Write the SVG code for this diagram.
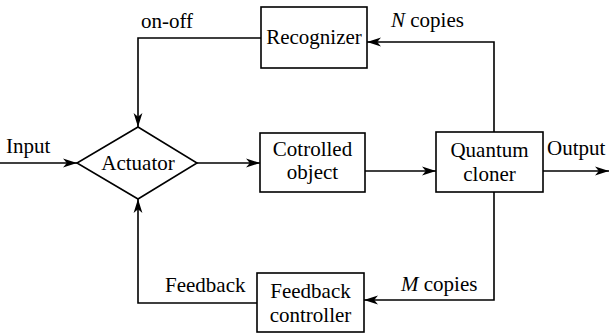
<svg xmlns="http://www.w3.org/2000/svg" width="610" height="336" viewBox="0 0 610 336">
  <style>
    .box { fill: #fff; stroke: #000; stroke-width: 1.6; }
    .wire { fill: none; stroke: #000; stroke-width: 1.6; marker-end: url(#arrow); }
    text { font-family: 'Liberation Serif', 'DejaVu Serif', serif; font-size: 21px; fill: #000; }
    .c { text-anchor: middle; }
  </style>
  <defs>
    <marker id="arrow" markerUnits="userSpaceOnUse" markerWidth="15" markerHeight="10" refX="14" refY="5" orient="auto">
      <path d="M0,0.6 L14,5 L0,9.4 L3.8,5 Z" fill="#000"/>
    </marker>
  </defs>
  <rect width="610" height="336" fill="#fff"/>

  <g id="connectors">
    <path class="wire" d="M0,163 H77"/>
    <path class="wire" d="M197,163 H260"/>
    <path class="wire" d="M365,171 H436"/>
    <path class="wire" d="M543,171 H609"/>
    <path class="wire" d="M494,132 V42 H367"/>
    <path class="wire" d="M261,38 H138 V127"/>
    <path class="wire" d="M494,192 V300 H364"/>
    <path class="wire" d="M257,303 H138 V199"/>
  </g>

  <g id="labels">
    <text x="6" y="153">Input</text>
    <text x="547" y="155">Output</text>
    <text x="141" y="28">on-off</text>
    <text x="391" y="27"><tspan font-style="italic">N</tspan> copies</text>
    <text x="401" y="291"><tspan font-style="italic">M</tspan> copies</text>
    <text x="165" y="292">Feedback</text>
  </g>

  <g id="recognizer">
    <rect class="box" x="261" y="7" width="106" height="61"/>
    <text class="c" x="314" y="44">Recognizer</text>
  </g>

  <g id="actuator">
    <polygon class="box" points="138,127 197,163 138,199 77,163"/>
    <text class="c" x="138" y="170">Actuator</text>
  </g>

  <g id="controlled-object">
    <rect class="box" x="260" y="133" width="105" height="59"/>
    <text class="c" x="312.5" y="156">Cotrolled</text>
    <text class="c" x="312.5" y="179">object</text>
  </g>

  <g id="quantum-cloner">
    <rect class="box" x="436" y="132" width="107" height="60"/>
    <text class="c" x="489.5" y="157">Quantum</text>
    <text class="c" x="489.5" y="181">cloner</text>
  </g>

  <g id="feedback-controller">
    <rect class="box" x="257" y="273" width="107" height="59"/>
    <text class="c" x="310.5" y="298">Feedback</text>
    <text class="c" x="310.5" y="322">controller</text>
  </g>
</svg>
